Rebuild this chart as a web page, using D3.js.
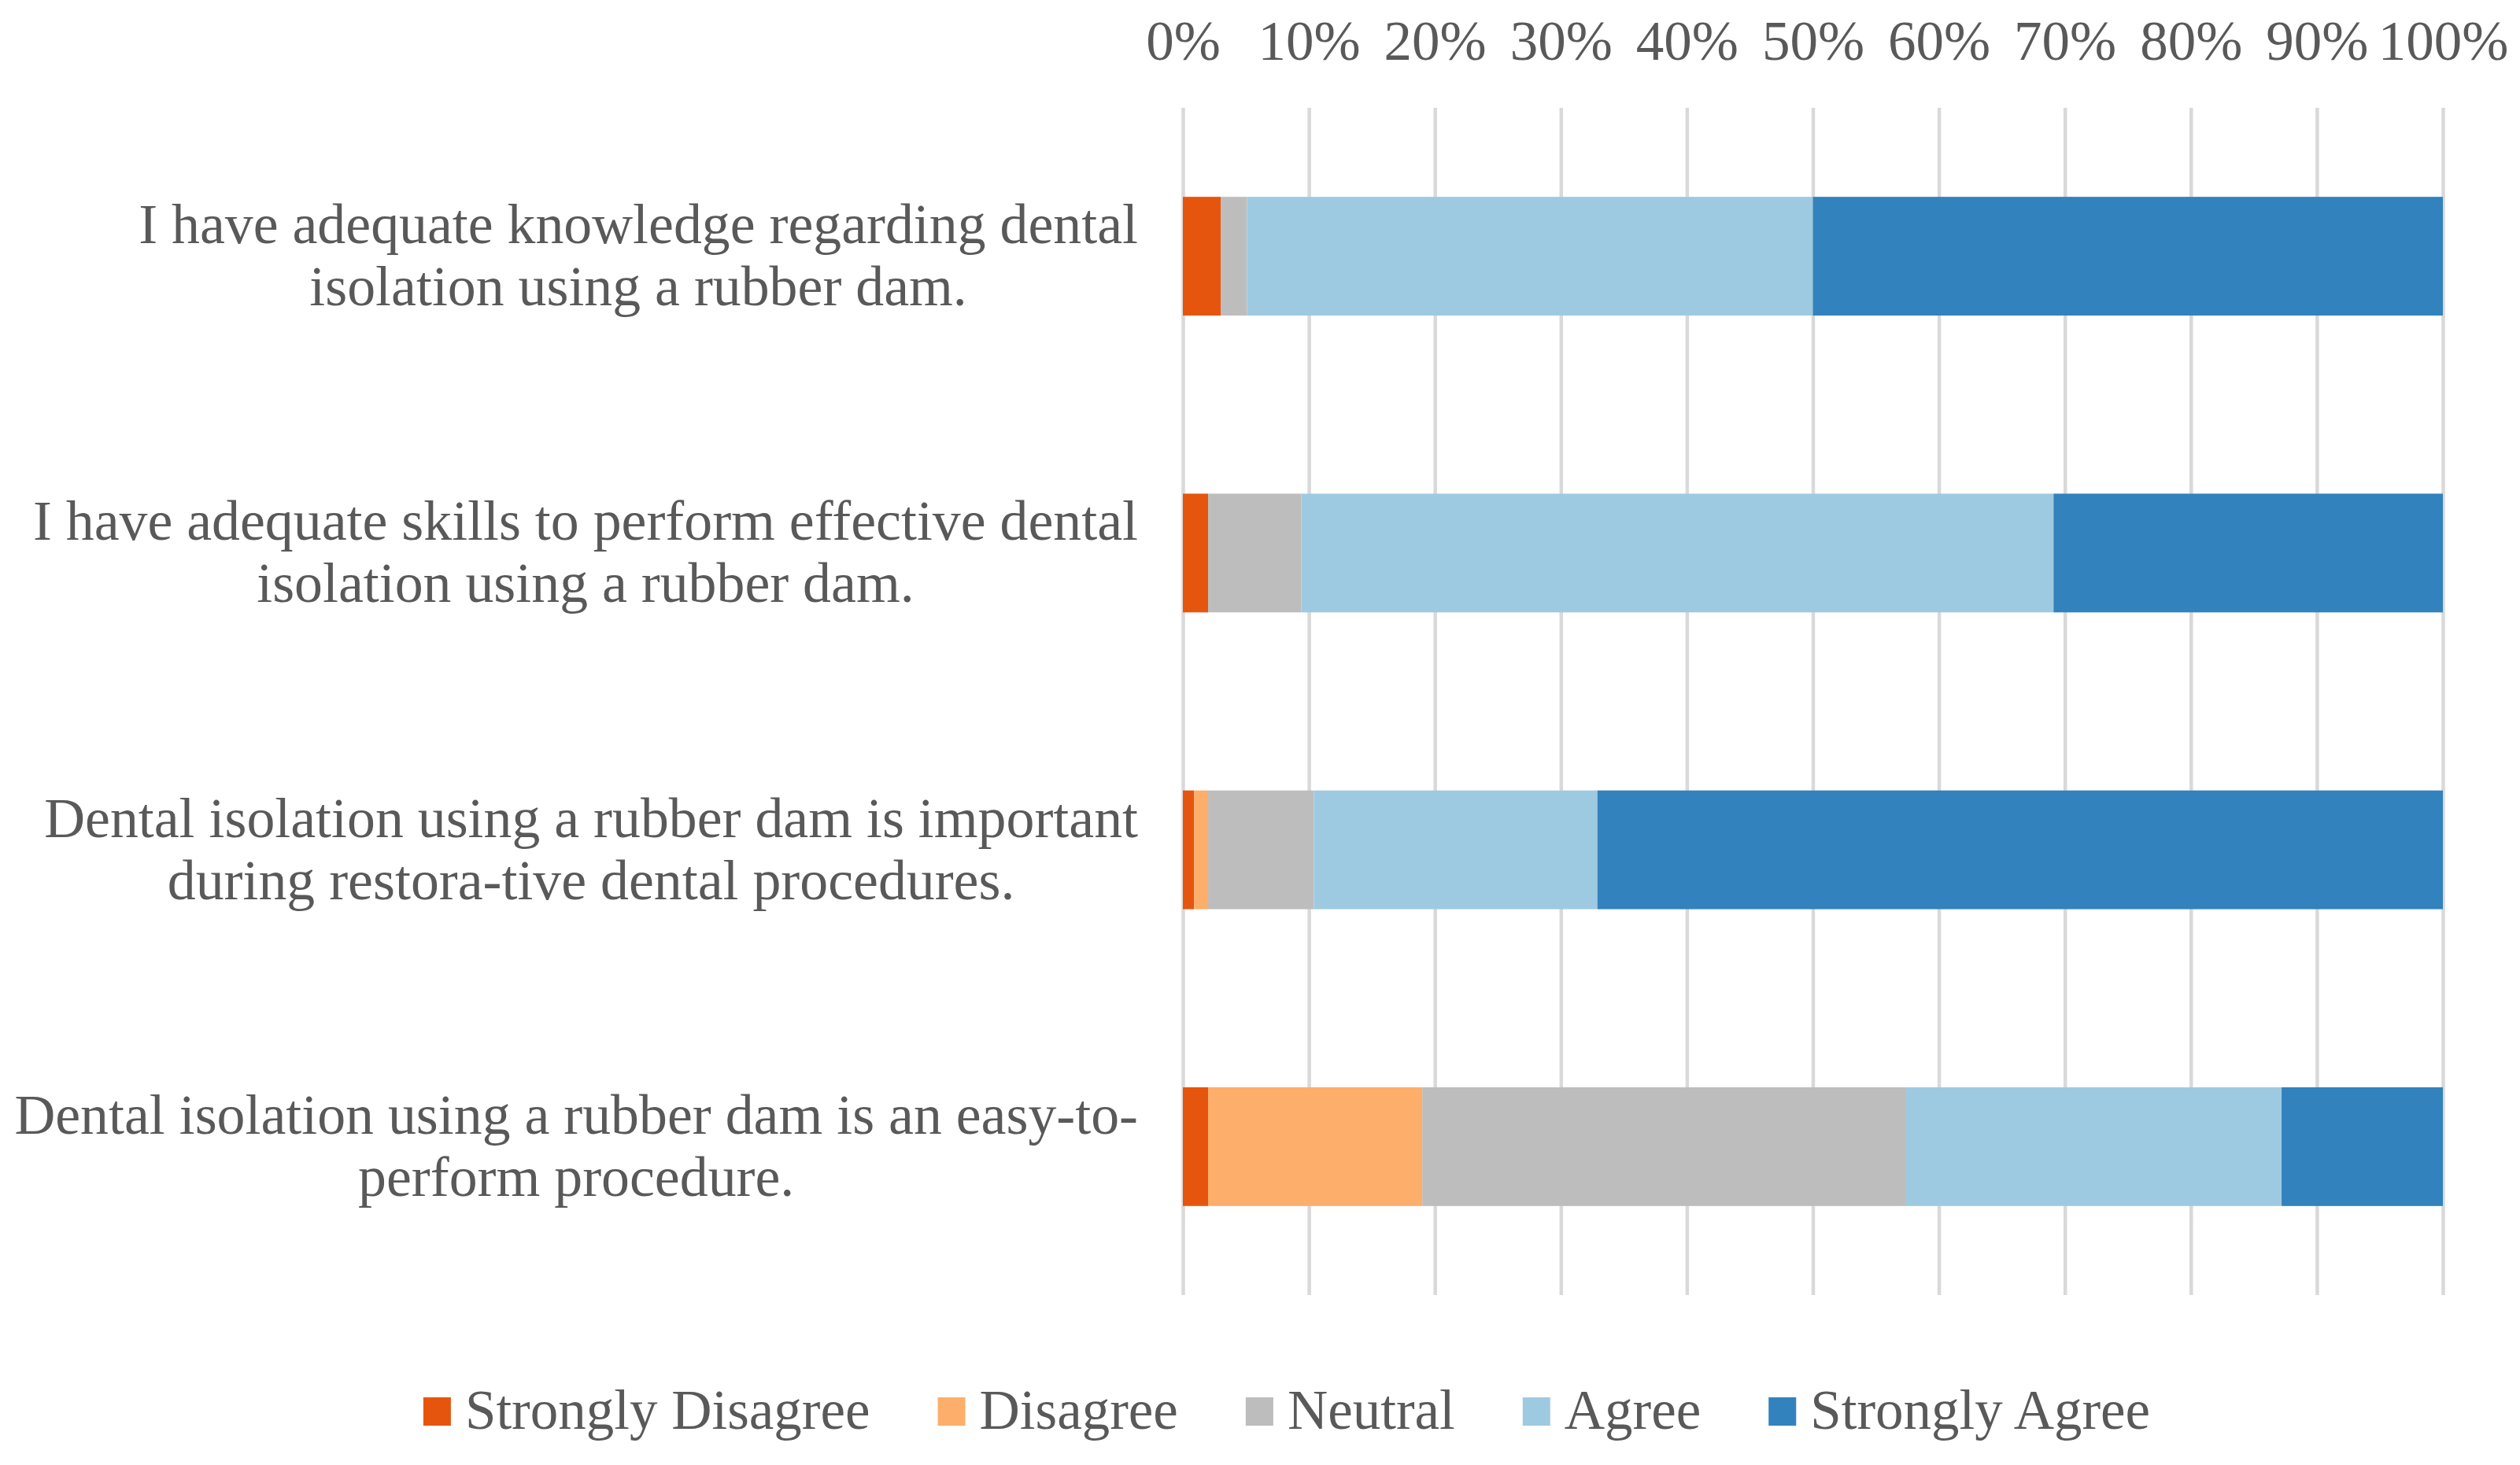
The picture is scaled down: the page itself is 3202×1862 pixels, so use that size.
<!DOCTYPE html>
<html>
<head>
<meta charset="utf-8">
<script src="https://cdn.jsdelivr.net/npm/d3@7"></script>
<style>
  html, body { margin: 0; padding: 0; background: #fff; }
  svg { display: block; }
</style>
</head>
<body>
<svg id="chart"></svg>
<script>
// statements, top to bottom
const categories = [
  "I have adequate knowledge regarding dental|isolation using a rubber dam.",
  "I have adequate skills to perform effective dental|isolation using a rubber dam.",
  "Dental isolation using a rubber dam is important|during restora-tive dental procedures.",
  "Dental isolation using a rubber dam is an easy-to-|perform procedure."
];
const levels = ["Strongly Disagree", "Disagree", "Neutral", "Agree", "Strongly Agree"];

// percent of answers per statement
const stronglyDisagree = [3.0, 2.0, 0.9, 2.0];
const disagree         = [0.0, 0.0, 1.1, 17.0];
const neutral          = [2.1, 7.4, 8.4, 38.4];
const agree            = [44.9, 59.7, 22.5, 29.8];
const stronglyAgree    = [50.0, 30.9, 67.1, 12.8];

const ticks = [0, 10, 20, 30, 40, 50, 60, 70, 80, 90, 100];
const colors = ["#E6550D", "#FDAE6B", "#BDBDBD", "#9ECAE1", "#3182BD"];

const w = 3202, h = 1862;
const mar = { top: 137, right: 98, bottom: 216, left: 1503 };
const font = "'Liberation Serif', 'Times New Roman', serif";
const textColor = "#595959";

const svg = d3.select("#chart").attr("width", w).attr("height", h);

// build the table for d3.stack
const series = [stronglyDisagree, disagree, neutral, agree, stronglyAgree];
const rows = categories.map((c, i) => {
  const r = { cat: c };
  levels.forEach((l, j) => r[l] = series[j][i]);
  return r;
});
const stacked = d3.stack().keys(levels)(rows);

const x = d3.scaleLinear().domain([0, 100]).range([mar.left, w - mar.right]);
const y = d3.scaleBand()
  .domain(categories)
  .range([mar.top, h - mar.bottom])
  .paddingInner(0.6)
  .paddingOuter(0.3);
const color = d3.scaleOrdinal().domain(levels).range(colors);

// gridlines + percent labels on top
const plotH = h - mar.bottom - mar.top;
const xAxis = svg.append("g")
  .attr("transform", "translate(0," + mar.top + ")")
  .call(d3.axisTop(x).tickValues(ticks).tickFormat(d => d + "%")
    .tickSize(-plotH).tickPadding(61));
xAxis.select(".domain").remove();
xAxis.selectAll(".tick line").attr("stroke", "#D9D9D9").attr("stroke-width", 4.5);
xAxis.selectAll(".tick text")
  .attr("font-family", font).attr("font-size", 71).attr("fill", textColor);

// bars
svg.append("g").selectAll("g")
  .data(stacked)
  .join("g")
  .attr("fill", d => color(d.key))
  .selectAll("rect")
  .data(d => d)
  .join("rect")
  .attr("x", d => x(d[0]))
  .attr("y", d => y(d.data.cat))
  .attr("width", d => x(d[1]) - x(d[0]))
  .attr("height", y.bandwidth());

// category labels: wrapped lines centred within a block that ends near the axis
const labelRight = 1446;
const lab = svg.append("g").attr("font-family", font).attr("font-size", 71.8).attr("fill", textColor);
categories.forEach(c => {
  const lines = c.split("|");
  const cy = y(c) + y.bandwidth() / 2;
  const t = lab.append("text").attr("text-anchor", "middle");
  lines.forEach((ln, i) => {
    t.append("tspan").attr("y", cy - 16.5 + i * 79).text(ln);
  });
  let maxW = 0;
  t.selectAll("tspan").each(function () { maxW = Math.max(maxW, this.getComputedTextLength()); });
  t.selectAll("tspan").attr("x", labelRight - maxW / 2);
});

// legend
const leg = svg.append("g").attr("font-family", font).attr("font-size", 71).attr("fill", textColor);
let lx = 0;
levels.forEach(l => {
  const g = leg.append("g").attr("transform", "translate(" + lx + ",0)");
  g.append("rect").attr("x", 0).attr("y", 1776).attr("width", 35).attr("height", 36).attr("fill", color(l));
  const t = g.append("text").attr("x", 53).attr("y", 1816).text(l);
  lx += 53 + t.node().getComputedTextLength() + 86;
});
const legW = lx - 86;
leg.attr("transform", "translate(" + (1635 - legW / 2) + ",0)");
</script>
</body>
</html>
